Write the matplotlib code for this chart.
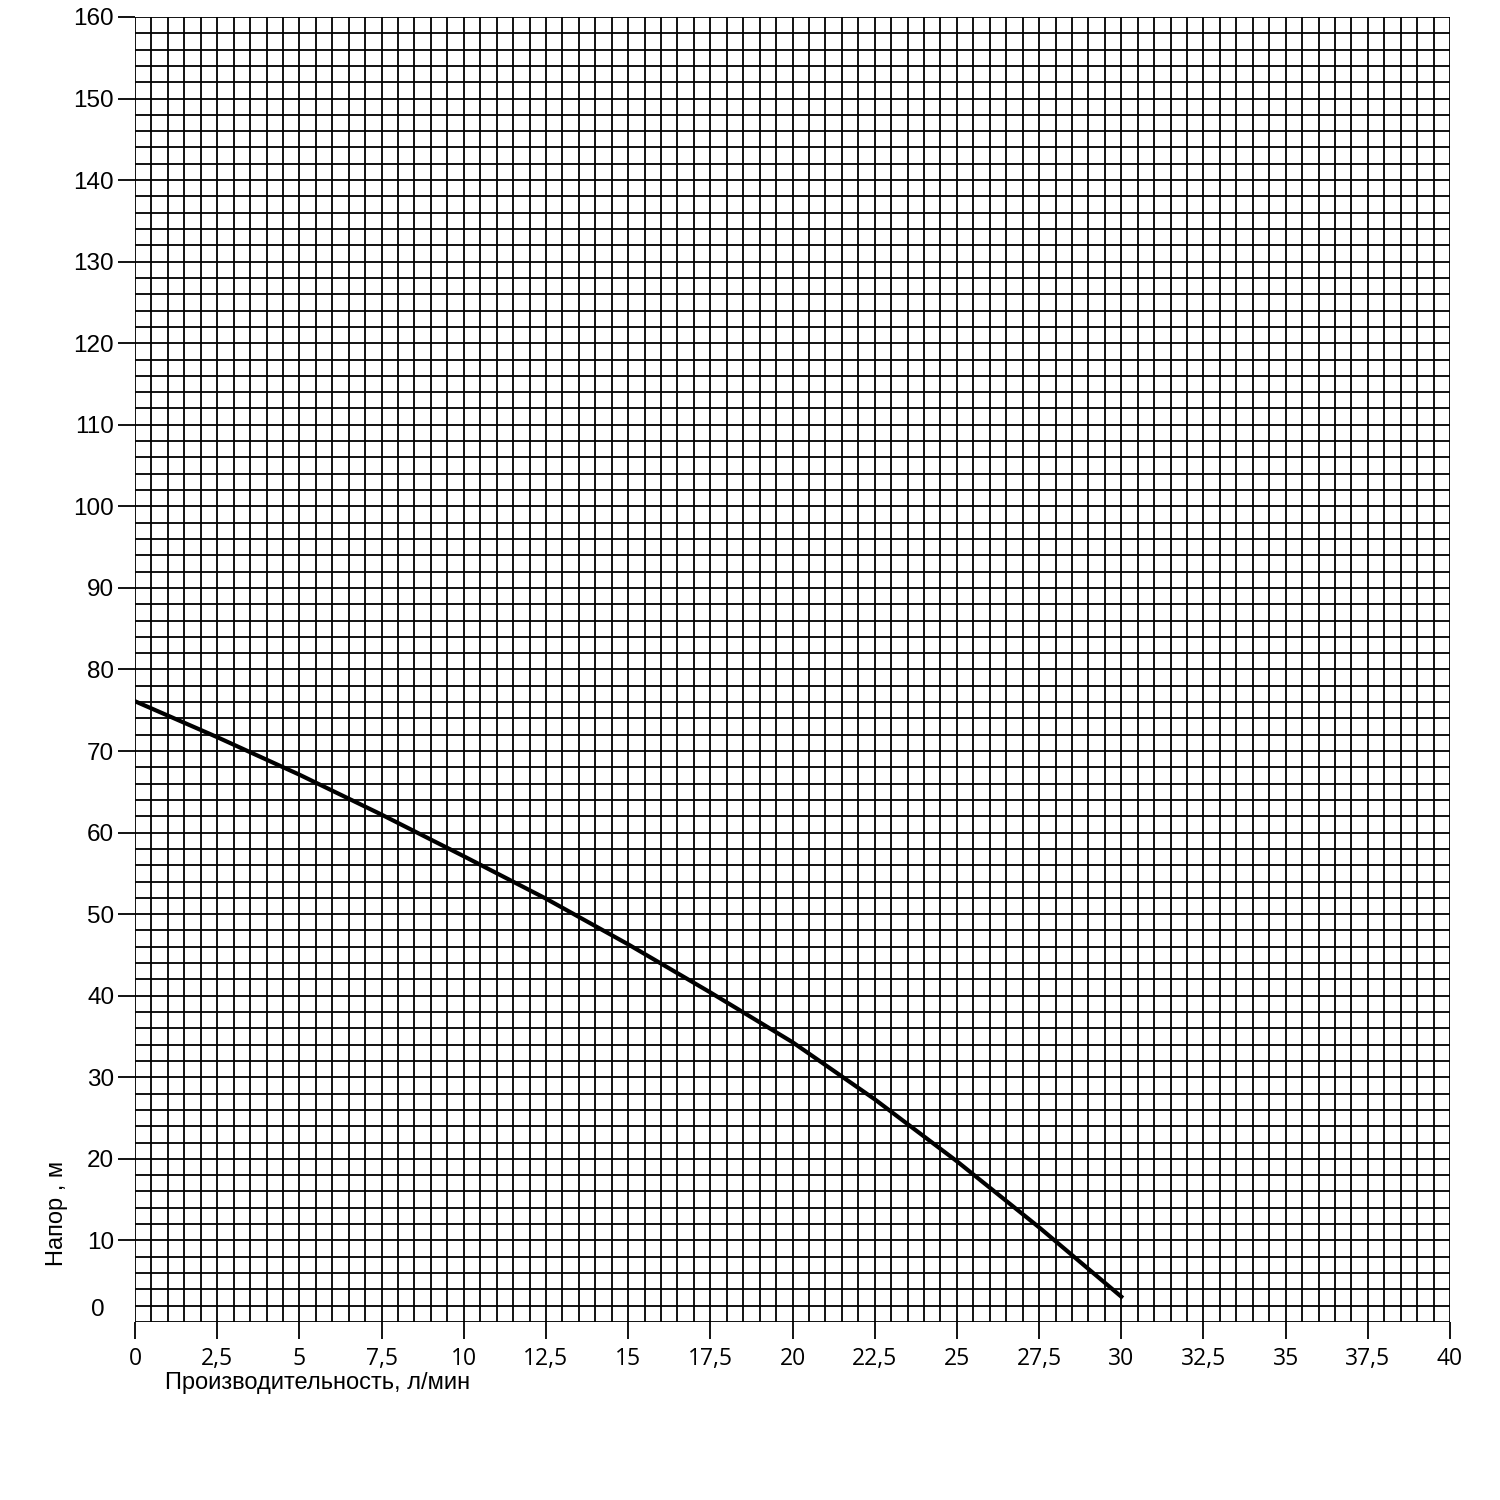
import numpy as np
import matplotlib.pyplot as plt
import matplotlib.transforms as mtransforms

# Напорная характеристика насоса
flow = [0, 2.5, 5, 7.5, 10, 12.5, 15, 17.5, 20, 22.5, 25, 27.5, 30]
head = [76.1, 71.7, 67.1, 62.2, 57.1, 51.9, 46.3, 40.4, 34.3, 27.3, 19.7, 11.6, 3.1]

x_ticks = [0, 2.5, 5, 7.5, 10, 12.5, 15, 17.5, 20, 22.5, 25, 27.5, 30, 32.5, 35, 37.5, 40]
x_labels = ['0', '2,5', '5', '7,5', '10', '12,5', '15', '17,5', '20', '22,5',
            '25', '27,5', '30', '32,5', '35', '37,5', '40']
y_ticks = list(range(0, 161, 10))

fig = plt.figure(figsize=(15, 15), dpi=100)
ax = fig.add_axes([0.09, 0.1187, 0.8767, 0.87])

# Сетка миллиметровки
for gx in np.arange(0, 40.01, 0.5):
    ax.axvline(gx, color='black', lw=1.3, zorder=1)
for gy in np.arange(0, 160.01, 2):
    ax.axhline(gy, color='black', lw=1.3, zorder=1)

ax.plot(flow, head, color='black', lw=3, zorder=3, solid_joinstyle='round')

ax.set_xlim(0, 40)
ax.set_ylim(0, 160)
for s in ax.spines.values():
    s.set_visible(False)

ax.set_xticks(x_ticks)
ax.set_xticklabels(x_labels, fontfamily='Open Sans', fontsize=16.5)
ax.set_yticks(y_ticks)
ax.set_yticklabels([str(v) for v in y_ticks], fontfamily='Liberation Sans', fontsize=17.5)
ax.tick_params(axis='x', length=12, width=1.3, pad=6, colors='black')
ax.tick_params(axis='y', length=12, width=1.3, pad=3, colors='black')

# у нуля нет штриха, подпись "0" немного выше линии
tick0 = ax.yaxis.get_major_ticks()[0]
tick0.tick1line.set_visible(False)
lbl0 = tick0.label1
lbl0.set_transform(lbl0.get_transform() +
                   mtransforms.ScaledTranslation(-0.1, 0.14, fig.dpi_scale_trans))

fig.text(165 / 1500, 1 - 1383 / 1500, 'Производительность, л/мин',
         fontfamily='Liberation Sans', fontsize=17, ha='left', va='center')
fig.text(57 / 1500, 1 - 1213 / 1500, 'Напор , м', rotation=90,
         fontfamily='Liberation Sans', fontsize=17, ha='center', va='center')

fig.savefig('out.png', dpi=100, facecolor='white')
